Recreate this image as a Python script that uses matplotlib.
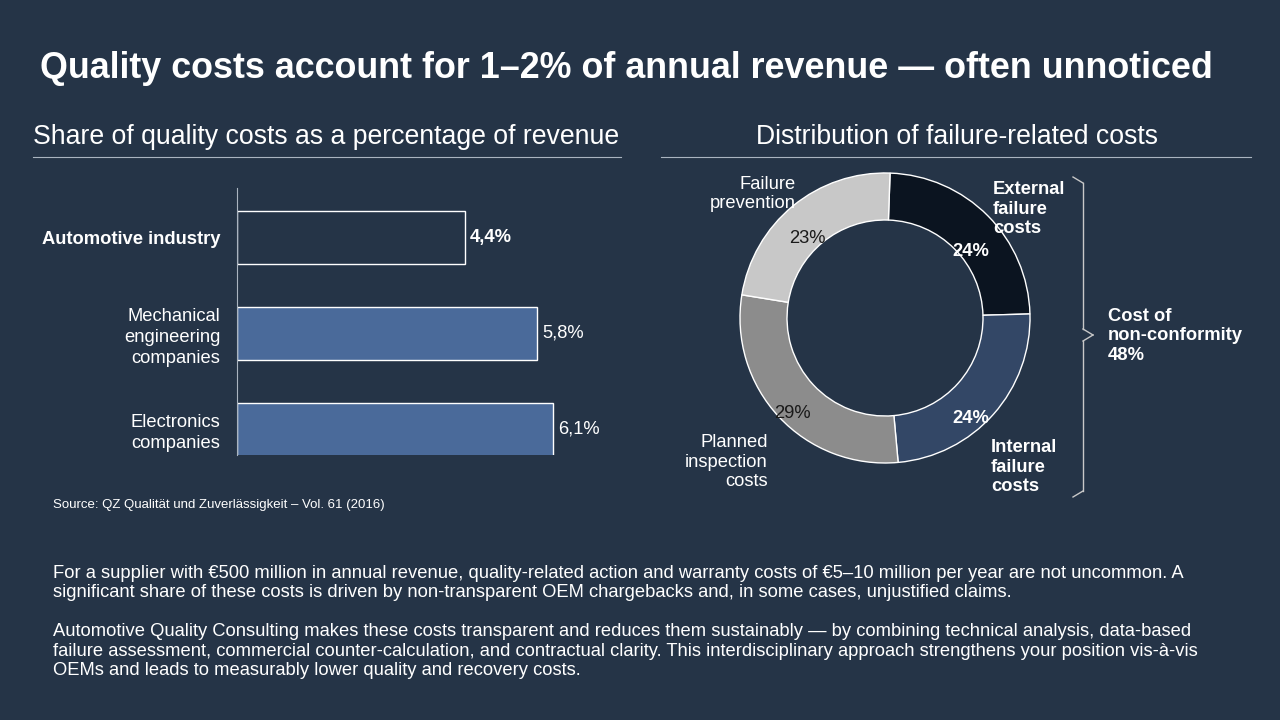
import matplotlib
matplotlib.use("Agg")
import matplotlib.pyplot as plt
from matplotlib.lines import Line2D

BG = "#253447"
categories = ["Automotive industry", "Mechanical\nengineering\ncompanies", "Electronics\ncompanies"]
values = [4.4, 5.8, 6.1]
value_labels = ["4,4%", "5,8%", "6,1%"]
donut_labels = ["External\nfailure\ncosts", "Internal\nfailure\ncosts", "Planned\ninspection\ncosts", "Failure\nprevention"]
donut_values = [24, 24, 29, 23]
donut_colors = ["#0b1420", "#334766", "#8c8c8c", "#c8c8c8"]

plt.rcParams['font.family'] = ['Liberation Sans', 'DejaVu Sans']
W, H = 1280, 720
fig = plt.figure(figsize=(12.8, 7.2), dpi=100, facecolor=BG)

def px(x, y):
    return x / W, 1 - y / H

def text(x, y, s, **kw):
    kw.setdefault("color", "white")
    fig.text(*px(x, y), s, **kw)

text(40, 68, "Quality costs account for 1–2% of annual revenue — often unnoticed", fontsize=25.8, weight="bold", va="center")
text(33, 137, "Share of quality costs as a percentage of revenue", fontsize=19.2, va="center")
text(1158, 137, "Distribution of failure-related costs", fontsize=19.2, va="center", ha="right")
fig.add_artist(Line2D([px(33,0)[0], px(621,0)[0]], [px(0,157)[1]]*2, color="#aab4c0", lw=0.8))
fig.add_artist(Line2D([px(661,0)[0], px(1251,0)[0]], [px(0,157)[1]]*2, color="#aab4c0", lw=0.8))

FS = 13.2
# Bar chart
axw = 400
ax = fig.add_axes([237/W, 1-455/H, axw/W, 267/H])
ax.set_facecolor(BG)
ax.set_xlim(0, axw/51.8)
ax.set_ylim(2.27, -0.52)
ys = list(range(len(values)))
fills = [BG, "#4a6a9a", "#4a6a9a"]
ax.barh(ys, values, height=0.555, color=fills, edgecolor="white", lw=1)
for y, v, l in zip(ys, values, value_labels):
    ax.text(v + 0.1, y, l, color="white", fontsize=FS, va="center", weight="bold" if y == 0 else "normal")
ax.set_yticks(ys)
ax.set_yticklabels(categories, color="white", fontsize=FS, linespacing=1.3)
ax.get_yticklabels()[0].set_weight("bold")
ax.tick_params(axis="y", length=0, pad=12)
ax.set_xticks([])
for s in ["top", "right", "bottom"]:
    ax.spines[s].set_visible(False)
ax.spines["left"].set_color("#aab4c0")

text(53, 505, "Source: QZ Qualität und Zuverlässigkeit – Vol. 61 (2016)", fontsize=9.5, va="center")

# Donut
R = 145
ax2 = fig.add_axes([(885-160)/W, 1-(318+160)/H, 320/W, 320/H])
ax2.set_facecolor(BG)
ax2.pie(donut_values, colors=donut_colors, startangle=88, counterclock=False,
        wedgeprops=dict(width=47/160, edgecolor="white", lw=1), radius=R/160)
ax2.set_xlim(-1, 1); ax2.set_ylim(-1, 1); ax2.axis("off")

text(971, 252, "24%", fontsize=FS, weight="bold", ha="center", va="center")
text(971, 418, "24%", fontsize=FS, weight="bold", ha="center", va="center")
text(792, 414, "29%", fontsize=FS, color="#1a1a1a", ha="center", va="center")
text(807, 239, "23%", fontsize=FS, color="#1a1a1a", ha="center", va="center")
text(993, 209, donut_labels[0], fontsize=FS, weight="bold", va="center", linespacing=1.2)
text(991, 467, donut_labels[1], fontsize=FS, weight="bold", va="center", linespacing=1.2)
text(768, 462, donut_labels[2], fontsize=FS, ha="right", va="center", linespacing=1.2)
text(796, 194, donut_labels[3], fontsize=FS, ha="right", va="center", linespacing=1.2)

# Brace
bx0, bx1, bx2 = 1073, 1083, 1093
top, mid, bot = 177, 335, 497
for (xa, ya, xb, yb) in [(bx0, top, bx1, top + 6), (bx1, top + 6, bx1, mid - 6), (bx1, mid - 6, bx2, mid),
                         (bx2, mid, bx1, mid + 6), (bx1, mid + 6, bx1, bot - 6), (bx1, bot - 6, bx0, bot)]:
    fig.add_artist(Line2D([xa/W, xb/W], [1-ya/H, 1-yb/H], color="#c8c8c8", lw=1))
text(1108, 336, "Cost of\nnon-conformity\n48%", fontsize=FS, weight="bold", va="center", linespacing=1.2)

text(53, 583, "For a supplier with €500 million in annual revenue, quality-related action and warranty costs of €5–10 million per year are not uncommon. A\nsignificant share of these costs is driven by non-transparent OEM chargebacks and, in some cases, unjustified claims.",
     fontsize=13.2, va="center", linespacing=1.2)
text(53, 651, "Automotive Quality Consulting makes these costs transparent and reduces them sustainably — by combining technical analysis, data-based\nfailure assessment, commercial counter-calculation, and contractual clarity. This interdisciplinary approach strengthens your position vis-à-vis\nOEMs and leads to measurably lower quality and recovery costs.",
     fontsize=13.2, va="center", linespacing=1.2)

fig.savefig("out.png", facecolor=BG)
